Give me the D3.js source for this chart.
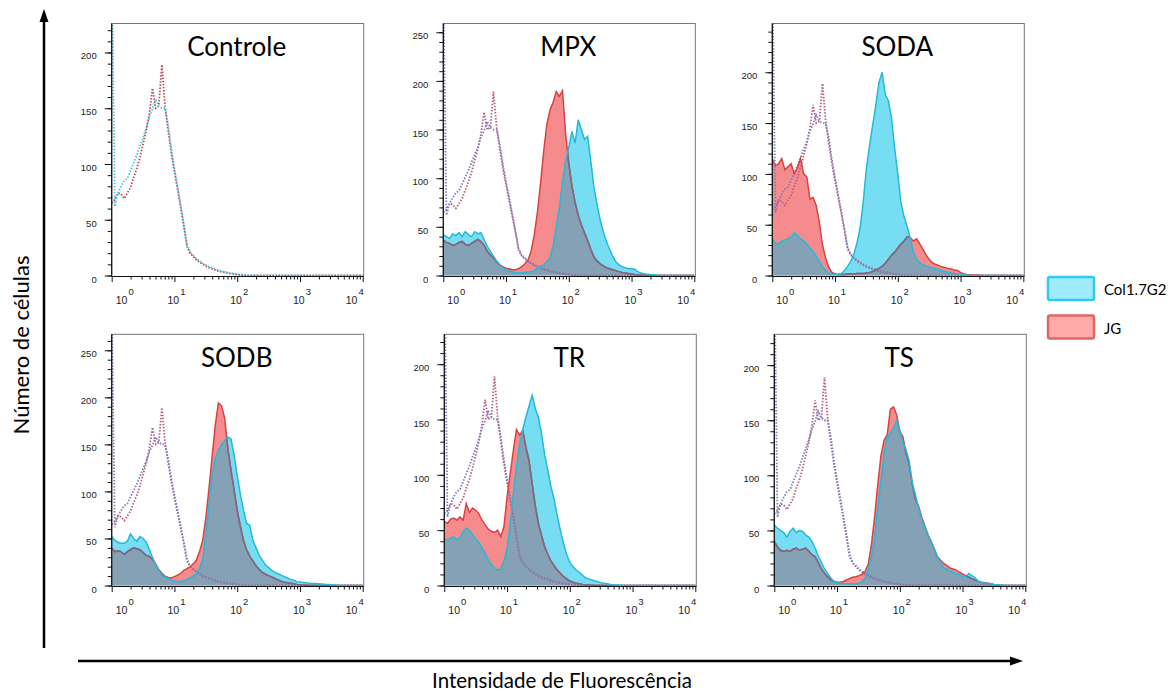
<!DOCTYPE html>
<html><head><meta charset="utf-8">
<script src="https://cdn.jsdelivr.net/npm/d3@7"></script>
<style>
body{margin:0;background:#fff;}
svg{display:block;}
</style></head>
<body>
<svg id="chart" width="1176" height="691"></svg>
<script>
// ---------------- DATA ----------------
const panelNames = ["Controle", "MPX", "SODA", "SODB", "TR", "TS"];
const panelYMax = [226, 259, 248, 267, 227, 228];
const seriesNames = ["Col1.7G2", "JG"];
const decadeExponents = [0, 1, 2, 3, 4];
const xAxisTitle = "Intensidade de Fluorescência";
const yAxisTitle = "Número de células";

// bin centres, as log10 of fluorescence intensity
const binExponents = [
  0.00,0.05,0.10,0.15,0.20,0.25,0.30,0.35,0.40,0.45,
  0.50,0.55,0.60,0.65,0.70,0.75,0.80,0.85,0.90,0.95,
  1.00,1.05,1.10,1.15,1.20,1.25,1.30,1.35,1.40,1.45,
  1.50,1.55,1.60,1.65,1.70,1.75,1.80,1.85,1.90,1.95,
  2.00,2.05,2.10,2.15,2.20,2.25,2.30,2.35,2.40,2.45,
  2.50,2.55,2.60,2.65,2.70,2.75,2.80,2.85,2.90,2.95,
  3.00,3.05,3.10,3.15,3.20,3.25,3.30,3.35,3.40,3.45,
  3.50,3.55,3.60,3.65,3.70,3.75,3.80,3.85,3.90,3.95,
  4.00];

// isotype controls (dotted, identical in every panel)
const isoCol = [
  300,62,74,80,85,87,94,101,108,116,
  124,132,142,149,158,152,150,150,135,114,
  96,80,63,46,28,21,18,15,13,11,
  9.5,8,7,6,5,4,3.4,2.8,2.2,1.6,
  1.2,0.8,0.5,0.3,0,0,0,0,0,0,
  0,0,0,0,0,0,0,0,0,0,
  0,0,0,0,0,0,0,0,0,0,
  0,0,0,0,0,0,0,0,0,0,
  0];
const isoJG = [
  65,68,74,73,69,74,79,88,96,106,
  118,130,145,168,150,152,189,152,130,110,
  93,77,61,44,26,20,17,14,12,10,
  8.5,7,6,5,4,3.3,2.7,2.1,1.6,1.2,
  0.8,0.5,0.3,0,0,0,0,0,0,0,
  0,0,0,0,0,0,0,0,0,0,
  0,0,0,0,0,0,0,0,0,0,
  0,0,0,0,0,0,0,0,0,0,
  0];

// MPX
const mpxCol = [
  42,40,38,43,41,44,40,45,42,40,
  45,43,44,37,30,25,20,15,11,8,
  6,5,4,3,2.5,2.5,3,3.5,4,5,
  7,9,11,14,18,30,50,70,96,118,
  132,148,136,160,150,140,143,118,91,73,
  57,45,35,27,20,14,11,9,8,7,
  7,6.5,4,2.5,1.8,1.4,1,0.7,0.4,0,
  0,0,0,0,0,0,0,0,0,0,
  0];
const mpxJG = [
  36,34,33,31,32,34,35,32,31,33,
  35,37,35,31,25,21,18,14,11,9,
  7.5,7,6,6,7,9,12,16,25,42,
  65,95,128,155,170,178,189,184,190,145,
  115,92,75,62,52,44,36,27,19,15,
  12,10,8,7,6,5,4,3,2.5,2,
  1.5,1,0.7,0.5,0.3,0,0,0,0,0,
  0,0,0,0,0,0,0,0,0,0,
  0];

// SODA
const sodaCol = [
  36,32,31,34,35,36,38,42,39,36,
  34,31,27,24,19,14,9,5,2.5,1.5,
  1,1.2,2,5,9,14,21,32,47,73,
  106,128,148,168,190,200,178,172,155,125,
  100,72,58,48,36,23,16,12.5,10.5,9.5,
  8.5,7.5,7,6,5,4,3.3,2.5,2,1.6,
  1.2,0.8,0.5,0,0,0,0,0,0,0,
  0,0,0,0,0,0,0,0,0,0,
  0];
const sodaJG = [
  115,108,110,115,104,107,110,100,106,115,
  100,97,75,77,69,52,30,17,8,3,
  1.5,1,1,1,1.5,1.5,1.5,2,2,2,
  2.5,3,4,5.5,7,9,12,16,20,23,
  27,31,34,38,37,34,36,31,26,20,
  16,12.5,11,10,8.5,8,7,6.5,5.5,5,
  3,1.6,1,0.7,0.5,0.4,0.3,0,0,0,
  0,0,0,0,0,0,0,0,0,0,
  0];

// SODB
const sodbCol = [
  52,48,46,45,45,47,55,50,47,52,
  50,46,38,30,22,16,11,9,7.5,6,
  5,4,4.5,5,6.5,8,10,13,18,27,
  55,85,118,135,144,150,154,158,156,139,
  117,97,80,66,64,48,40,32,27,22,
  19,16,14,12.5,11,9.5,8,6.5,5.5,4,
  3.6,3.2,2.8,2.5,2.2,2,1.8,1.5,1.2,1,
  0.7,0.5,0.3,0,0,0,0,0,0,0,
  0];
const sodbJG = [
  40,36,37,36,33,36,38,40,39,38,
  35,32,31,28,23,17,13,10,8.5,8,
  9.5,11,13,16,18,20,23,27,36,48,
  72,103,137,170,194,191,178,146,123,102,
  80,63,48,38,31,26,21,17,14,12,
  10.5,9,7.5,6,4.5,3.5,3,2.5,1.8,1.2,
  0.8,0.5,0.3,0,0,0,0,0,0,0,
  0,0,0,0,0,0,0,0,0,0,
  0];

// TR
const trCol = [
  42,41,43,44,41,43,49,52,50,46,
  42,39,34,29,23,19,16,14,15,22,
  33,55,83,108,128,141,152,162,172,160,
  152,137,118,104,89,78,63,50,38,28,
  21,17,14,12,9.5,7,6,5,4,3.3,
  2.6,2,1.5,1,0.7,0.5,0.3,0,0,0,
  0,0,0,0,0,0,0,0,0,0,
  0,0,0,0,0,0,0,0,0,0,
  0];
const trJG = [
  58,56,60,61,59,62,59,74,66,70,
  68,65,59,55,51,49,48,50,44,53,
  80,101,122,141,136,140,125,113,92,72,
  56,45,35,28,22,18,14,11,8,6,
  4,3,2,1.5,1,0.7,0.5,0.3,0,0,
  0,0,0,0,0,0,0,0,0,0,
  0,0,0,0,0,0,0,0,0,0,
  0,0,0,0,0,0,0,0,0,0,
  0];

// TS
const tsCol = [
  55,52,50,48,44,49,52,48,50,49,
  46,44,40,34,27,21,15,11,7,3.5,
  2.5,2,1.5,1.5,1.5,1.5,1.5,2,3.5,7,
  15,26,45,72,96,120,135,138,143,150,
  141,130,123,113,93,82,70,61,53,46,
  40,33,26,21,16,15,13.5,12,10.5,10,
  8.5,8,11,9,7,4,3,2.3,2,1.5,
  1,0.7,0.4,0,0,0,0,0,0,0,
  0];
const tsJG = [
  40,35,32,31,32,31,33,34,32,33,
  34,31,28,26,21,15,11,8,5,4,
  3,3,3.6,5,6.5,7.5,8,9,10,13,
  20,38,63,92,118,132,137,160,162,155,
  140,135,120,110,92,78,72,62,54,46,
  40,33,26,23,20,18,16,15,14,12,
  10.5,9,7.5,6,5,4,3,2.5,2,1.5,
  1,0.6,0.3,0,0,0,0,0,0,0,
  0];

const panelCol = [null, mpxCol, sodaCol, sodbCol, trCol, tsCol];
const panelJG  = [null, mpxJG, sodaJG, sodbJG, trJG, tsJG];

// ---------------- LAYOUT / STYLE ----------------
const layout = [
  {x:111.7, top:23.5, base:276.5},
  {x:443.3, top:23.5, base:276.5},
  {x:772.3, top:23.5, base:276.5},
  {x:111.7, top:334.3, base:586.5},
  {x:444.3, top:334.3, base:586.5},
  {x:774.3, top:334.3, base:586.5}
];
const PW = 251;
const C = {
  cyanFill:"#76ddf3", cyanLine:"#25b9d8",
  redFill:"#f68b8d", redLine:"#d84243",
  overlap:"#84a1b6", redUnder:"#726e8a",
  dotCyan0:"#48c8e2", dotRed0:"#c04a55",
  dotCyan:"#7a7fbd", dotRed:"#b6607e"
};
const tickFont = "'Liberation Sans', Arial, sans-serif";
const textFont = "Lato, 'Open Sans', sans-serif";

const svg = d3.select("#chart");
const defs = svg.append("defs");

panelNames.forEach((name, i) => {
  const L = layout[i];
  const x = d3.scaleLog().domain([1, 1e4]).range([L.x, L.x + PW]);
  const y = d3.scaleLinear().domain([0, panelYMax[i]]).range([L.base - 1, L.top]);
  const pts = arr => binExponents.map((e, k) => ({f: Math.pow(10, e), v: arr[k]}));
  const area = d3.area().x(d => x(d.f)).y0(y(0)).y1(d => y(d.v));
  const line = d3.line().x(d => x(d.f)).y(d => y(d.v));
  const dotted = (sel, col) => sel.attr("fill", "none").attr("stroke", col)
    .attr("stroke-width", 1.8).attr("stroke-dasharray", "1.5,1.6");

  defs.append("clipPath").attr("id", "plot" + i)
    .append("rect").attr("x", L.x).attr("y", L.top)
    .attr("width", PW + 1).attr("height", L.base - L.top);

  const g = svg.append("g");
  const pg = g.append("g").attr("clip-path", `url(#plot${i})`);

  if (panelCol[i]) {
    const cp = pts(panelCol[i]), rp = pts(panelJG[i]);
    defs.append("clipPath").attr("id", "cyanArea" + i)
      .append("path").attr("d", area(cp));
    pg.append("path").attr("d", area(rp)).attr("fill", C.redFill);
    pg.append("path").attr("d", area(cp)).attr("fill", C.cyanFill);
    pg.append("path").attr("d", area(rp)).attr("fill", C.overlap)
      .attr("clip-path", `url(#cyanArea${i})`);
    pg.append("path").attr("d", line(pts(isoJG))).call(dotted, C.dotRed);
    pg.append("path").attr("d", line(pts(isoCol))).call(dotted, C.dotCyan);
    pg.append("path").attr("d", line(rp)).attr("fill", "none")
      .attr("stroke", C.redLine).attr("stroke-width", 1.5);
    pg.append("path").attr("d", line(rp)).attr("fill", "none")
      .attr("stroke", C.redUnder).attr("stroke-width", 1.5)
      .attr("clip-path", `url(#cyanArea${i})`);
    pg.append("path").attr("d", line(cp)).attr("fill", "none")
      .attr("stroke", C.cyanLine).attr("stroke-width", 1.5);
  } else {
    pg.append("path").attr("d", line(pts(isoJG))).call(dotted, C.dotRed0);
    pg.append("path").attr("d", line(pts(isoCol))).call(dotted, C.dotCyan0);
  }

  // frame
  g.append("rect").attr("x", L.x).attr("y", L.top).attr("width", PW + 1)
    .attr("height", L.base - L.top).attr("fill", "none")
    .attr("stroke", "#777").attr("stroke-width", 1);

  // y axis: minor and major ticks
  const yMinor = d3.range(0, panelYMax[i] + 0.01, 10);
  const yMajor = yMinor.filter(v => v % 50 === 0);
  g.append("g").attr("transform", `translate(${L.x},0)`)
    .call(d3.axisLeft(y).tickValues(yMinor).tickSize(4).tickSizeOuter(0).tickFormat(""))
    .call(a => a.select(".domain").remove());
  g.append("g").attr("transform", `translate(${L.x},0)`)
    .call(d3.axisLeft(y).tickValues(yMajor).tickSize(7).tickSizeOuter(0).tickPadding(8)
      .tickFormat(d3.format("d")))
    .call(a => a.select(".domain").remove())
    .call(a => a.selectAll("text").attr("dy", "6.5").attr("font-size", "9.5px")
      .attr("font-family", tickFont).attr("fill", "#222"));

  // x axis: minor log ticks and decades
  const decades = decadeExponents.map(e => Math.pow(10, e));
  const minor = x.ticks().filter(v => !decades.includes(v));
  g.append("g").attr("transform", `translate(0,${L.base})`)
    .call(d3.axisBottom(x).tickValues(minor).tickSize(3).tickSizeOuter(0).tickFormat(""))
    .call(a => a.select(".domain").remove());
  g.append("g").attr("transform", `translate(0,${L.base})`)
    .call(d3.axisBottom(x).tickValues(decades).tickSize(5.5).tickSizeOuter(0).tickFormat(""))
    .call(a => a.select(".domain").remove());
  g.selectAll(".tick line").attr("stroke", "#111");

  // axis lines
  g.append("line").attr("x1", L.x).attr("x2", L.x).attr("y1", L.top).attr("y2", L.base)
    .attr("stroke", "#111").attr("stroke-width", 1.2);
  g.append("line").attr("x1", L.x).attr("x2", L.x + PW + 1).attr("y1", L.base).attr("y2", L.base)
    .attr("stroke", "#111").attr("stroke-width", 1.2);

  // decade labels 10^k
  decadeExponents.forEach((e, k) => {
    const tx = x(Math.pow(10, e));
    const off = k === 0 ? 4 : (k === decadeExponents.length - 1 ? -17 : -7);
    const t = g.append("text").attr("x", tx + off).attr("y", L.base + 27)
      .attr("font-family", tickFont).attr("font-size", "10.5px").attr("fill", "#222");
    t.append("tspan").text("10");
    t.append("tspan").attr("dx", 1).attr("dy", -8.5).attr("font-size", "9.5px").text(String(e));
  });

  // title
  g.append("text").attr("x", L.x + 125).attr("y", L.top + 32.5)
    .attr("text-anchor", "middle").attr("font-family", textFont)
    .attr("font-size", "26px").attr("fill", "#000").text(name);
});

// ---------------- AXIS ARROWS & TITLES ----------------
svg.append("line").attr("x1", 44).attr("x2", 44).attr("y1", 648).attr("y2", 20)
  .attr("stroke", "#000").attr("stroke-width", 2.5);
svg.append("path").attr("d", "M44,9 L39.5,22 L48.5,22 Z").attr("fill", "#000");
svg.append("line").attr("x1", 78).attr("x2", 1012).attr("y1", 661).attr("y2", 661)
  .attr("stroke", "#000").attr("stroke-width", 2.5);
svg.append("path").attr("d", "M1023,661 L1010,656.5 L1010,665.5 Z").attr("fill", "#000");

svg.append("text").attr("x", 562).attr("y", 688).attr("text-anchor", "middle")
  .attr("font-family", textFont).attr("font-size", "20.5px").text(xAxisTitle);
svg.append("text").attr("transform", "translate(29,345) rotate(-90)")
  .attr("text-anchor", "middle").attr("font-family", textFont)
  .attr("font-size", "22px").text(yAxisTitle);

// ---------------- LEGEND ----------------
const legendFill = ["#9feafd", "#ffabab"];
const legendStroke = ["#2fcaf0", "#e26565"];
seriesNames.forEach((s, k) => {
  const ly = 277 + k * 38.5;
  svg.append("rect").attr("x", 1048).attr("y", ly).attr("width", 46).attr("height", 23)
    .attr("rx", 2).attr("fill", legendFill[k]).attr("stroke", legendStroke[k]).attr("stroke-width", 2.5);
  svg.append("text").attr("x", 1104).attr("y", ly + 18).attr("font-family", textFont)
    .attr("font-size", "15px").text(s);
});
</script>
</body></html>
